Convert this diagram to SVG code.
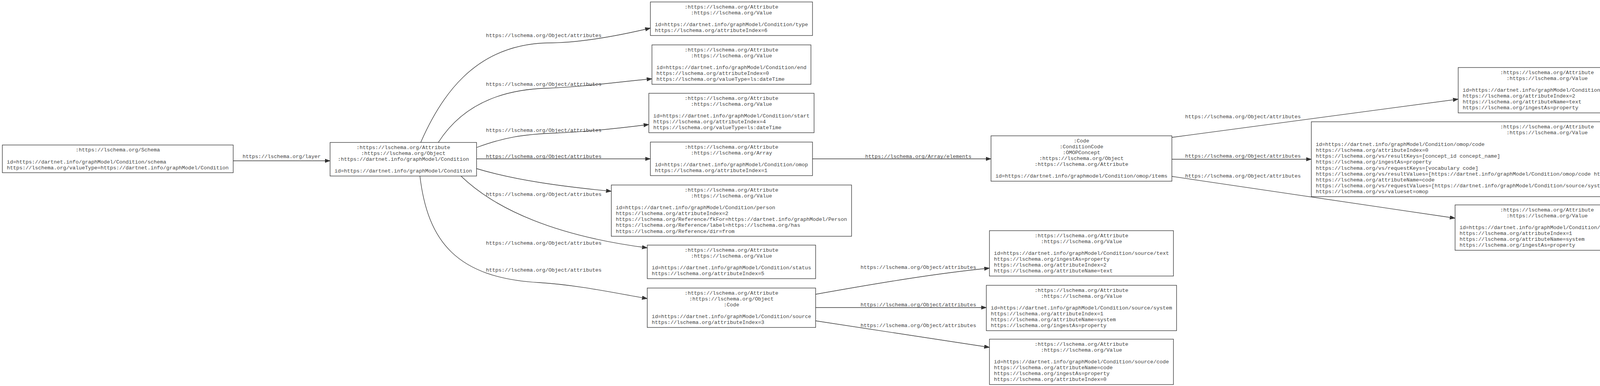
<svg xmlns="http://www.w3.org/2000/svg" width="4569" height="989" viewBox="0 0 4569 989">
<style>
text{font-family:"Liberation Mono","Courier New",monospace;font-size:13.33px;fill:#444}
.c{text-anchor:middle}
.n rect{fill:#fff;stroke:#333;stroke-width:1.33}
#edges path{fill:none;stroke:#333;stroke-width:1.33;marker-end:url(#ah)}
</style>
<defs>
<marker id="ah" markerUnits="userSpaceOnUse" markerWidth="14" markerHeight="10" refX="13.3" refY="4.67" orient="auto" viewBox="0 0 14 10">
<path d="M0,0 L13.3,4.67 L0,9.33 z" fill="#333" stroke="#333" stroke-width="1"/>
</marker>
</defs>
<rect width="4569" height="989" fill="#fff"/>
<g id="edges">
<path d="M597,412 L845,412"/>
<path d="M1077,365 C1125,255 1210,115 1400,110 C1470,110 1560,97 1665,72"/>
<path d="M1122,365 C1175,282 1262,230 1400,226 C1490,223 1580,210 1669,202"/>
<path d="M1220,378 C1290,352 1340,344 1420,341 C1500,338 1590,328 1661,319"/>
<path d="M1220,407 L1665,407"/>
<path d="M1220,432 C1320,462 1440,478 1565,490"/>
<path d="M1180,451 C1270,538 1425,605 1657,635"/>
<path d="M1075,451 C1095,620 1170,712 1380,724 C1480,730 1580,752 1657,765"/>
<path d="M2080,407 L2537,407"/>
<path d="M2088,754 C2250,725 2400,700 2533,687"/>
<path d="M2088,788 L2525,788"/>
<path d="M2088,822 C2250,846 2400,870 2533,890"/>
<path d="M3000,352 C3250,318 3500,285 3733,254"/>
<path d="M3000,408 L3357,408"/>
<path d="M3000,452 C3250,488 3500,526 3725,559"/>
<text class="c" x="721" y="405">https://lschema.org/layer</text>
<text x="1244" y="94.5">https://lschema.org/Object/attributes</text>
<text x="1244" y="219.5">https://lschema.org/Object/attributes</text>
<text x="1244" y="337.5">https://lschema.org/Object/attributes</text>
<text x="1244" y="404.5">https://lschema.org/Object/attributes</text>
<text x="1244" y="501.5">https://lschema.org/Object/attributes</text>
<text x="1244" y="626.5">https://lschema.org/Object/attributes</text>
<text x="1244" y="695.5">https://lschema.org/Object/attributes</text>
<text x="2215" y="404.5">https://lschema.org/Array/elements</text>
<text x="2203" y="688.5">https://lschema.org/Object/attributes</text>
<text x="2203" y="784.5">https://lschema.org/Object/attributes</text>
<text x="2203" y="837.5">https://lschema.org/Object/attributes</text>
<text x="3034" y="302.5">https://lschema.org/Object/attributes</text>
<text x="3034" y="403.5">https://lschema.org/Object/attributes</text>
<text x="3034" y="454.5">https://lschema.org/Object/attributes</text>
</g>
<g id="schema" class="n">
<rect x="6" y="371.5" width="591" height="71"/>
<text class="c" x="301.5" y="388.3">:https://lschema.org/Schema</text>
<text x="17.5" y="418.5">id=https://dartnet.info/graphModel/Condition/schema</text>
<text x="17.5" y="433.6">https://lschema.org/valueType=https://dartnet.info/graphModel/Condition</text>
</g>
<g id="condition" class="n">
<rect x="845" y="365" width="375" height="86"/>
<text class="c" x="1032.5" y="381.8">:https://lschema.org/Attribute</text>
<text class="c" x="1032.5" y="396.9">:https://lschema.org/Object</text>
<text class="c" x="1032.5" y="412">:https://dartnet.info/graphModel/Condition</text>
<text x="856.5" y="442.2">id=https://dartnet.info/graphModel/Condition</text>
</g>
<g id="type" class="n">
<rect x="1665" y="5" width="415" height="86"/>
<text class="c" x="1872.5" y="21.8">:https://lschema.org/Attribute</text>
<text class="c" x="1872.5" y="36.9">:https://lschema.org/Value</text>
<text x="1676.5" y="67.1">id=https://dartnet.info/graphModel/Condition/type</text>
<text x="1676.5" y="82.2">https://lschema.org/attributeIndex=6</text>
</g>
<g id="end" class="n">
<rect x="1669" y="115" width="407" height="101"/>
<text class="c" x="1872.5" y="131.8">:https://lschema.org/Attribute</text>
<text class="c" x="1872.5" y="146.9">:https://lschema.org/Value</text>
<text x="1680.5" y="177.1">id=https://dartnet.info/graphModel/Condition/end</text>
<text x="1680.5" y="192.2">https://lschema.org/attributeIndex=0</text>
<text x="1680.5" y="207.3">https://lschema.org/valueType=ls:dateTime</text>
</g>
<g id="start" class="n">
<rect x="1661" y="239" width="423" height="101"/>
<text class="c" x="1872.5" y="255.8">:https://lschema.org/Attribute</text>
<text class="c" x="1872.5" y="270.9">:https://lschema.org/Value</text>
<text x="1672.5" y="301.1">id=https://dartnet.info/graphModel/Condition/start</text>
<text x="1672.5" y="316.2">https://lschema.org/attributeIndex=4</text>
<text x="1672.5" y="331.3">https://lschema.org/valueType=ls:dateTime</text>
</g>
<g id="omop" class="n">
<rect x="1665" y="364" width="415" height="86"/>
<text class="c" x="1872.5" y="380.8">:https://lschema.org/Attribute</text>
<text class="c" x="1872.5" y="395.9">:https://lschema.org/Array</text>
<text x="1676.5" y="426.1">id=https://dartnet.info/graphModel/Condition/omop</text>
<text x="1676.5" y="441.2">https://lschema.org/attributeIndex=1</text>
</g>
<g id="person" class="n">
<rect x="1565" y="474" width="615" height="131.4"/>
<text class="c" x="1872.5" y="490.8">:https://lschema.org/Attribute</text>
<text class="c" x="1872.5" y="505.9">:https://lschema.org/Value</text>
<text x="1576.5" y="536.1">id=https://dartnet.info/graphModel/Condition/person</text>
<text x="1576.5" y="551.2">https://lschema.org/attributeIndex=2</text>
<text x="1576.5" y="566.3">https://lschema.org/Reference/fkFor=https://dartnet.info/graphModel/Person</text>
<text x="1576.5" y="581.4">https://lschema.org/Reference/label=https://lschema.org/has</text>
<text x="1576.5" y="596.5">https://lschema.org/Reference/dir=from</text>
</g>
<g id="status" class="n">
<rect x="1657" y="628" width="431" height="86"/>
<text class="c" x="1872.5" y="644.8">:https://lschema.org/Attribute</text>
<text class="c" x="1872.5" y="659.9">:https://lschema.org/Value</text>
<text x="1668.5" y="690.1">id=https://dartnet.info/graphModel/Condition/status</text>
<text x="1668.5" y="705.2">https://lschema.org/attributeIndex=5</text>
</g>
<g id="source" class="n">
<rect x="1657" y="738" width="431" height="101"/>
<text class="c" x="1872.5" y="754.8">:https://lschema.org/Attribute</text>
<text class="c" x="1872.5" y="769.9">:https://lschema.org/Object</text>
<text class="c" x="1872.5" y="785">:Code</text>
<text x="1668.5" y="815.2">id=https://dartnet.info/graphModel/Condition/source</text>
<text x="1668.5" y="830.3">https://lschema.org/attributeIndex=3</text>
</g>
<g id="omopItems" class="n">
<rect x="2537" y="348" width="463" height="116.3"/>
<text class="c" x="2768.5" y="364.8">:Code</text>
<text class="c" x="2768.5" y="379.9">:ConditionCode</text>
<text class="c" x="2768.5" y="395">:OMOPConcept</text>
<text class="c" x="2768.5" y="410.1">:https://lschema.org/Object</text>
<text class="c" x="2768.5" y="425.2">:https://lschema.org/Attribute</text>
<text x="2548.5" y="455.4">id=https://dartnet.info/graphmodel/Condition/omop/items</text>
</g>
<g id="sourceText" class="n">
<rect x="2533" y="591" width="471" height="116.3"/>
<text class="c" x="2768.5" y="607.8">:https://lschema.org/Attribute</text>
<text class="c" x="2768.5" y="622.9">:https://lschema.org/Value</text>
<text x="2544.5" y="653.1">id=https://dartnet.info/graphModel/Condition/source/text</text>
<text x="2544.5" y="668.2">https://lschema.org/ingestAs=property</text>
<text x="2544.5" y="683.3">https://lschema.org/attributeIndex=2</text>
<text x="2544.5" y="698.4">https://lschema.org/attributeName=text</text>
</g>
<g id="sourceSystem" class="n">
<rect x="2525" y="731" width="487" height="116.3"/>
<text class="c" x="2768.5" y="747.8">:https://lschema.org/Attribute</text>
<text class="c" x="2768.5" y="762.9">:https://lschema.org/Value</text>
<text x="2536.5" y="793.1">id=https://dartnet.info/graphModel/Condition/source/system</text>
<text x="2536.5" y="808.2">https://lschema.org/attributeIndex=1</text>
<text x="2536.5" y="823.3">https://lschema.org/attributeName=system</text>
<text x="2536.5" y="838.4">https://lschema.org/ingestAs=property</text>
</g>
<g id="sourceCode" class="n">
<rect x="2533" y="869" width="471" height="116.3"/>
<text class="c" x="2768.5" y="885.8">:https://lschema.org/Attribute</text>
<text class="c" x="2768.5" y="900.9">:https://lschema.org/Value</text>
<text x="2544.5" y="931.1">id=https://dartnet.info/graphModel/Condition/source/code</text>
<text x="2544.5" y="946.2">https://lschema.org/attributeName=code</text>
<text x="2544.5" y="961.3">https://lschema.org/ingestAs=property</text>
<text x="2544.5" y="976.4">https://lschema.org/attributeIndex=0</text>
</g>
<g id="omopText" class="n">
<rect x="3733" y="173" width="455" height="116.3"/>
<text class="c" x="3960.5" y="189.8">:https://lschema.org/Attribute</text>
<text class="c" x="3960.5" y="204.9">:https://lschema.org/Value</text>
<text x="3744.5" y="235.1">id=https://dartnet.info/graphModel/Condition/omop/text</text>
<text x="3744.5" y="250.2">https://lschema.org/attributeIndex=2</text>
<text x="3744.5" y="265.3">https://lschema.org/attributeName=text</text>
<text x="3744.5" y="280.4">https://lschema.org/ingestAs=property</text>
</g>
<g id="omopCode" class="n">
<rect x="3357" y="312" width="1207" height="191.8"/>
<text class="c" x="3960.5" y="328.8">:https://lschema.org/Attribute</text>
<text class="c" x="3960.5" y="343.9">:https://lschema.org/Value</text>
<text x="3368.5" y="374.1">id=https://dartnet.info/graphModel/Condition/omop/code</text>
<text x="3368.5" y="389.2">https://lschema.org/attributeIndex=0</text>
<text x="3368.5" y="404.3">https://lschema.org/vs/resultKeys=[concept_id concept_name]</text>
<text x="3368.5" y="419.4">https://lschema.org/ingestAs=property</text>
<text x="3368.5" y="434.5">https://lschema.org/vs/requestKeys=[vocabulary code]</text>
<text x="3368.5" y="449.6">https://lschema.org/vs/resultValues=[https://dartnet.info/graphModel/Condition/omop/code https://dartnet.info/graphModel/Condition/omop/system]</text>
<text x="3368.5" y="464.7">https://lschema.org/attributeName=code</text>
<text x="3368.5" y="479.8">https://lschema.org/vs/requestValues=[https://dartnet.info/graphModel/Condition/source/system https://dartnet.info/graphModel/Condition/source/code]</text>
<text x="3368.5" y="494.9">https://lschema.org/vs/valueset=omop</text>
</g>
<g id="omopSystem" class="n">
<rect x="3725" y="525" width="471" height="116.3"/>
<text class="c" x="3960.5" y="541.8">:https://lschema.org/Attribute</text>
<text class="c" x="3960.5" y="556.9">:https://lschema.org/Value</text>
<text x="3736.5" y="587.1">id=https://dartnet.info/graphModel/Condition/omop/system</text>
<text x="3736.5" y="602.2">https://lschema.org/attributeIndex=1</text>
<text x="3736.5" y="617.3">https://lschema.org/attributeName=system</text>
<text x="3736.5" y="632.4">https://lschema.org/ingestAs=property</text>
</g>
</svg>
